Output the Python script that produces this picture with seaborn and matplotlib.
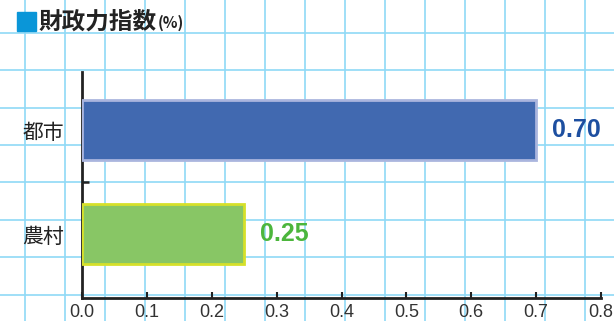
import pandas as pd
import matplotlib.pyplot as plt
import seaborn as sns
from matplotlib.lines import Line2D
from matplotlib.patches import Rectangle

# data
areas = ['都市', '農村']
values = [0.70, 0.25]
value_labels = ['0.70', '0.25']
fill_colors = ['#4169b0', '#88c665']
edge_colors = ['#aab5de', '#d6e02a']
text_colors = ['#1d4fa0', '#4cb63c']
x_ticks = [0.0, 0.1, 0.2, 0.3, 0.4, 0.5, 0.6, 0.7, 0.8]

df = pd.DataFrame({'area': areas, 'value': values})

sns.set_theme(style='white')
plt.rcParams['font.family'] = ['Noto Sans CJK JP', 'DejaVu Sans']

W, H = 614, 321
fig = plt.figure(figsize=(W / 100, H / 100), dpi=100)
fig.patch.set_facecolor('white')

# graph-paper background
grid_c = '#8fd9f6'
for gx in range(25, W, 40):
    fig.add_artist(Line2D([gx / W, gx / W], [0, 1], color=grid_c, lw=1.2, zorder=0))
for gy in [33, 70, 108, 145, 182, 220, 257, 295]:
    fig.add_artist(Line2D([0, 1], [1 - gy / H, 1 - gy / H], color=grid_c, lw=1.2, zorder=0))

ax = fig.add_axes([82 / W, (H - 298) / H, (601 - 82) / W, (298 - 72) / H])
ax.patch.set_alpha(0)

sns.barplot(data=df, x='value', y='area', orient='h', width=0.58, ax=ax,
            hue='area', palette=fill_colors, saturation=1, legend=False, zorder=3)
for p, ec in zip(ax.patches, edge_colors):
    p.set_edgecolor(ec)
    p.set_linewidth(2.0)

for i, (v, lab, c) in enumerate(zip(values, value_labels, text_colors)):
    ax.text(v + 0.024, i, lab, color=c, fontsize=18, fontweight='bold',
            family=['Liberation Sans'], va='center', ha='left')

ax.set_xlim(0, 0.8)
ax.set_ylim(1.615, -0.56)
ax.set_xticks(x_ticks)
ax.set_xticklabels([f'{t:.1f}' for t in x_ticks], family=['Liberation Sans'],
                   fontsize=13, color='#333333')
ax.set_yticks([0, 1])
ax.set_yticklabels(areas, fontsize=15, color='#222222')
ax.set_yticks([0.5], minor=True)
ax.tick_params(axis='y', which='major', length=0, pad=13)
ax.tick_params(axis='y', which='minor', direction='in', length=5, width=1.8,
               color='#222222', left=True)
ax.tick_params(axis='x', direction='in', length=4, width=1.5, color='#222222',
               bottom=True, pad=4)
ax.set_xlabel('')
ax.set_ylabel('')
for s in ['top', 'right']:
    ax.spines[s].set_visible(False)
for s in ['left', 'bottom']:
    ax.spines[s].set_color('#222222')
    ax.spines[s].set_linewidth(2.0)

# title
fig.add_artist(Rectangle((17 / W, 1 - 31 / H), 19 / W, 19 / H, color='#0a96d8',
                         transform=fig.transFigure))
fig.text(39 / W, 1 - 22 / H, '財政力指数', fontsize=17, fontweight='bold',
         color='#222222', va='center', ha='left')
fig.text(158 / W, 1 - 23 / H, '(%)', fontsize=11, fontweight='bold',
         color='#222222', va='center', ha='left')

fig.savefig('out.png', dpi=100)
